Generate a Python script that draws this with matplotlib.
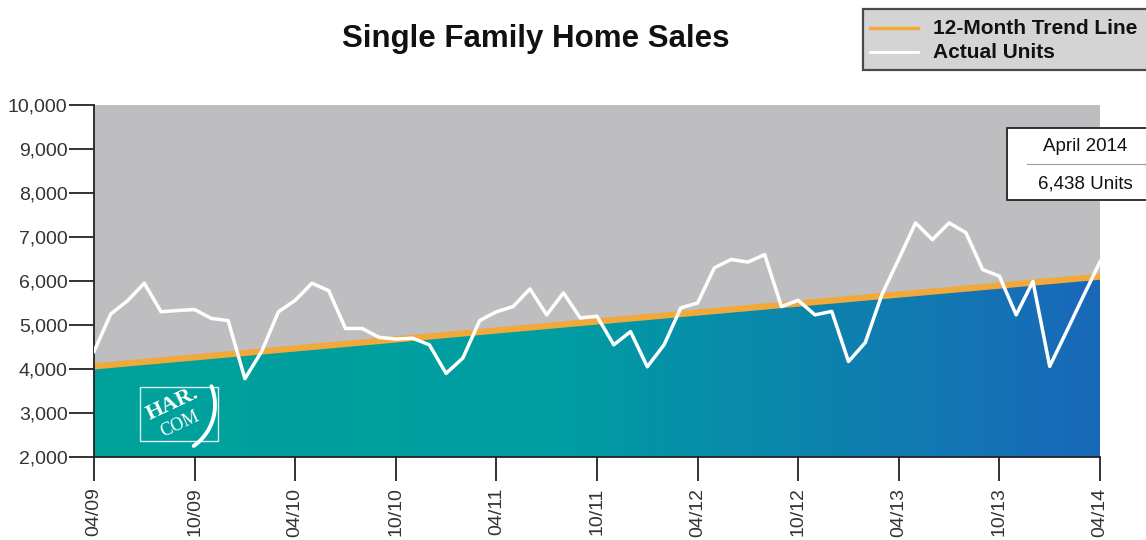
import numpy as np
import matplotlib
matplotlib.use("Agg")
import matplotlib.pyplot as plt
from matplotlib.colors import LinearSegmentedColormap
from matplotlib.patches import Polygon, Rectangle
from matplotlib.lines import Line2D

plt.rcParams["font.family"] = ["Liberation Sans", "DejaVu Sans"]

# monthly single family home sales, 04/2009 .. 04/2014
actual_units = [
    4400, 5250, 5550, 5950, 5300, 5330, 5350, 5150, 5100, 3780,
    4400, 5300, 5560, 5950, 5780, 4920, 4920, 4720, 4680, 4700,
    4550, 3900, 4250, 5100, 5300, 5420, 5820, 5230, 5730, 5160,
    5200, 4550, 4850, 4050, 4550, 5390, 5500, 6300, 6490, 6430,
    6600, 5420, 5560, 5230, 5310, 4170, 4600, 5700, 6500, 7320,
    6940, 7320, 7100, 6260, 6110, 5230, 5990, 4060, 4850, 5650,
    6438,
]
months = np.arange(len(actual_units))

# 12-month trend line end points (first and last month)
trend_months = [0, 60]
trend_units = [4060, 6100]

tick_months = [0, 6, 12, 18, 24, 30, 36, 42, 48, 54, 60]
tick_labels = ["04/09", "10/09", "04/10", "10/10", "04/11", "10/11",
               "04/12", "10/12", "04/13", "10/13", "04/14"]
y_ticks = [2000, 3000, 4000, 5000, 6000, 7000, 8000, 9000, 10000]

W, H = 1146, 540
fig = plt.figure(figsize=(W / 100, H / 100), dpi=100)
fig.patch.set_facecolor("white")
ax = fig.add_axes([94 / W, 1 - 457 / H, (1100 - 94) / W, (457 - 105) / H])
ax.set_facecolor("#bebec1")
ax.set_xlim(0, 60)
ax.set_ylim(2000, 10000)

# gradient area under the trend line
cmap = LinearSegmentedColormap.from_list(
    "har", [(0.0, "#00a19b"), (0.45, "#009ea2"), (1.0, "#1968b9")])
grad = np.linspace(0, 1, 256).reshape(1, -1)
im = ax.imshow(grad, extent=[0, 60, 2000, 10000], aspect="auto",
               cmap=cmap, origin="lower", zorder=1, interpolation="bicubic")
clip = Polygon([(trend_months[0], 2000), (trend_months[0], trend_units[0]),
                (trend_months[1], trend_units[1]), (trend_months[1], 2000)],
               closed=True, transform=ax.transData)
im.set_clip_path(clip)

ax.plot(trend_months, trend_units, color="#f2a93b", lw=4.5,
        solid_capstyle="butt", zorder=2)
ax.plot(months, actual_units, color="white", lw=2.5, zorder=3)

# HAR.COM logo
ax.add_patch(Rectangle((0.0457, 0.0455), 0.0776, 0.1535, transform=ax.transAxes,
                       fill=False, edgecolor="#d8f2ef", lw=1.0, zorder=4))
ax.text(0.0785, 0.152, "HAR.", transform=ax.transAxes, rotation=25,
        ha="center", va="center", color="white", fontsize=16,
        family="Liberation Serif", fontweight="bold", zorder=5)
ax.text(0.0850, 0.092, "COM", transform=ax.transAxes, rotation=25,
        ha="center", va="center", color="white", fontsize=13,
        family="Liberation Serif", zorder=5)
t = np.radians(np.linspace(-55, 22, 40))
ax.plot(0.0706 + 50 / 1006 * np.cos(t), 0.1477 + 50 / 352 * np.sin(t),
        transform=ax.transAxes, color="white", lw=2.8,
        solid_capstyle="round", zorder=5)

# axes styling
for s in ("top", "right"):
    ax.spines[s].set_visible(False)
for s in ("left", "bottom"):
    ax.spines[s].set_color("#222222")
    ax.spines[s].set_linewidth(1.3)
ax.set_yticks(y_ticks)
ax.set_yticklabels([f"{v:,}" for v in y_ticks])
ax.set_xticks(tick_months)
ax.set_xticklabels(tick_labels, rotation=90, va="top")
ax.tick_params(axis="y", length=18, width=1.3, color="#222222", pad=1,
               labelsize=14, labelcolor="#333333")
ax.tick_params(axis="x", length=17, width=1.3, color="#222222", pad=5,
               labelsize=14, labelcolor="#333333")

# title
fig.text(536 / W, 1 - 39 / H, "Single Family Home Sales", ha="center",
         va="center", fontsize=22.5, fontweight="bold", color="#111111")

# legend box
fig.patches.append(Rectangle((863 / W, 1 - 70 / H), 300 / W, 61 / H,
                             transform=fig.transFigure, facecolor="#d4d4d4",
                             edgecolor="#4a4a4a", lw=1.6, zorder=0))
fig.lines.append(Line2D([870 / W, 918 / W], [1 - 28 / H, 1 - 28 / H],
                        transform=fig.transFigure, color="#f2a93b", lw=2.5))
fig.lines.append(Line2D([870 / W, 918 / W], [1 - 52 / H, 1 - 52 / H],
                        transform=fig.transFigure, color="white", lw=2))
fig.text(933 / W, 1 - 28 / H, "12-Month Trend Line", ha="left", va="center",
         fontsize=15, fontweight="bold", color="#111111")
fig.text(933 / W, 1 - 52 / H, "Actual Units", ha="left", va="center",
         fontsize=15, fontweight="bold", color="#111111")

# latest value box
fig.patches.append(Rectangle((1007 / W, 1 - 200 / H), 160 / W, 72 / H,
                             transform=fig.transFigure, facecolor="white",
                             edgecolor="#222222", lw=1.3, zorder=3))
fig.lines.append(Line2D([1027 / W, 1146 / W], [1 - 164 / H, 1 - 164 / H],
                        transform=fig.transFigure, color="#999999", lw=0.8,
                        zorder=4))
fig.text(1085 / W, 1 - 147 / H, "April 2014", ha="center", va="center",
         fontsize=13.5, color="#111111", zorder=5)
fig.text(1085 / W, 1 - 184 / H, f"{actual_units[-1]:,} Units", ha="center",
         va="center", fontsize=13.5, color="#111111", zorder=5)

fig.savefig("out.png", dpi=100, facecolor="white")
